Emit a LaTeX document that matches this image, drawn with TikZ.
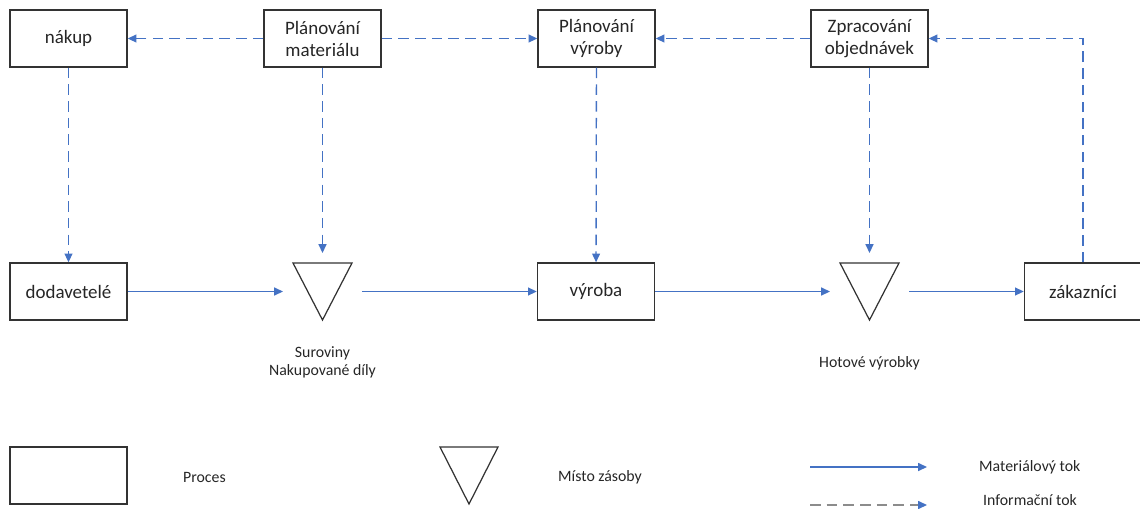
\documentclass[tikz,border=0pt]{standalone}
\usepackage{fontspec}
\setmainfont{Carlito}
\usepackage{xcolor}
\usetikzlibrary{arrows.meta}
\definecolor{flowblue}{RGB}{68,114,196}

\begin{document}
\begin{tikzpicture}[
  x=0.02cm, y=-0.02cm,
  box/.style={draw=black!80,line width=0.8pt,minimum width=2.34cm,minimum height=1.14cm,align=center,inner sep=2pt,font=\fontsize{10.8}{12.5}\selectfont,text=black!85},
  stock/.style={minimum width=1.18cm,minimum height=1.14cm,inner sep=0pt,outer sep=0.2cm},
  stockline/.style={draw=black!80,line width=0.7pt,line join=miter},
  lbl/.style={font=\fontsize{9}{10.5}\selectfont,text=black!85,align=center},
  mat/.style={-{Triangle[length=5pt,width=4.5pt]},flowblue,line width=0.75pt},
  info/.style={mat,dash pattern=on 6pt off 3.5pt}
]
\useasboundingbox (0,0) rectangle (1140,508);

\node[box] (nakup) at (68.5,38.5) {nákup};
\node[box] (planmat) at (322.5,38.5) {Plánování\\materiálu};
\node[box] (planvyr) at (596.5,38.5) {Plánování\\výroby};
\node[box] (zprac) at (869.5,38.5) {Zpracování\\objednávek};

\node[box] (dodav) at (68.5,291.5) {dodavetelé};
\node[stock] (surov) at (322.5,291.5) {};
\node[box] (vyroba) at (596,291.5) {výroba};
\node[stock] (hotove) at (869.5,291.5) {};
\node[box] (zakaz) at (1083,291.5) {zákazníci};

\draw[stockline] ([shift={(-29.5,-28.5)}]surov.center) -- ([shift={(29.5,-28.5)}]surov.center) -- ([shift={(0,28.5)}]surov.center) -- cycle;
\draw[stockline] ([shift={(-29.5,-28.5)}]hotove.center) -- ([shift={(29.5,-28.5)}]hotove.center) -- ([shift={(0,28.5)}]hotove.center) -- cycle;
\node[lbl] (surovlbl) at (322.5,362.5) {Suroviny\\Nakupované díly};
\node[lbl] (hotovelbl) at (869.5,363) {Hotové výrobky};

\draw[info] (planmat) -- (nakup);
\draw[info] (planmat) -- (planvyr);
\draw[info] (zprac) -- (planvyr);
\draw[info] (zakaz.north) |- (zprac.east);
\draw[info] (nakup) -- (dodav);
\draw[info] (planmat) -- (surov);
\draw[info] (planvyr) -- (vyroba);
\draw[info] (zprac) -- (hotove);

\draw[mat] (dodav) -- (surov);
\draw[mat] (surov) -- (vyroba);
\draw[mat] (vyroba) -- (hotove);
\draw[mat] (hotove) -- (zakaz);

\node[box] (legproc) at (68.5,475.5) {};
\node[lbl,anchor=west] (legproclbl) at (177,477) {Proces};
\node[stock] (legstock) at (469,475.5) {};
\draw[stockline] ([shift={(-29,-28.5)}]legstock.center) -- ([shift={(29,-28.5)}]legstock.center) -- ([shift={(0,28.5)}]legstock.center) -- cycle;
\node[lbl,anchor=west] (legstocklbl) at (552,477) {Místo zásoby};
\coordinate (legmat1) at (810,467);
\coordinate (legmat2) at (927,467);
\coordinate (leginf1) at (810,505);
\coordinate (leginf2) at (927,505);
\draw[mat] (legmat1) -- (legmat2);
\draw[info,black!45,-{Triangle[length=5pt,width=4.5pt,flowblue]}] (leginf1) -- (leginf2);
\node[lbl,anchor=west] (legmatlbl) at (973,467) {Materiálový tok};
\node[lbl,anchor=west] (leginflbl) at (977,500) {Informační tok};

\end{tikzpicture}
\end{document}
